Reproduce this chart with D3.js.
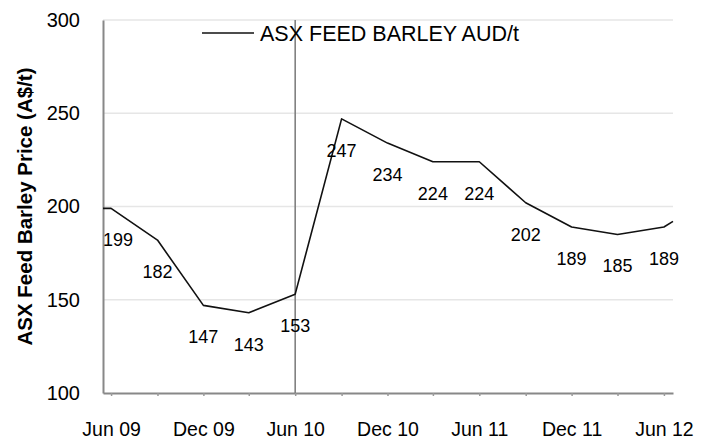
<!DOCTYPE html>
<html>
<head>
<meta charset="utf-8">
<script src="https://cdn.jsdelivr.net/npm/d3@7"></script>
<style>
  html, body { margin: 0; padding: 0; background: #fff; }
  svg { display: block; font-family: "Liberation Sans", Arial, Helvetica, sans-serif; }
</style>
</head>
<body>
<svg id="chart" width="712" height="440"></svg>
<script>
// ASX feed barley futures, quarterly settlements (A$/t), with the series
// running on to the edges of the plotted window.
const dates = [
  "2009-05-16", "2009-06-01", "2009-09-01", "2009-12-01", "2010-03-01",
  "2010-06-01", "2010-09-01", "2010-12-01", "2011-03-01", "2011-06-01",
  "2011-09-01", "2011-12-01", "2012-03-01", "2012-06-01", "2012-06-19"
];
const prices = [199, 199, 182, 147, 143, 153, 247, 234, 224, 224, 202, 189, 185, 189, 192];

// Axis ticks: every quarter, labelled every half year
const tickDates = [
  "2009-06-01", "2009-09-01", "2009-12-01", "2010-03-01", "2010-06-01",
  "2010-09-01", "2010-12-01", "2011-03-01", "2011-06-01", "2011-09-01",
  "2011-12-01", "2012-03-01", "2012-06-01"
];
const yTicks = [100, 150, 200, 250, 300];
const markerDate = "2010-06-01";   // vertical reference line

const seriesName = "ASX FEED BARLEY AUD/t";
const yTitle = "ASX Feed Barley Price (A$/t)";

const parse = d3.timeParse("%Y-%m-%d");
const points = dates.map((d, i) => ({ date: parse(d), value: prices[i] }));

const svg = d3.select("#chart");
const margin = { left: 103, right: 39, top: 20, bottom: 47 };
const W = 712, H = 440;

const x = d3.scaleTime()
  .domain(d3.extent(points, d => d.date))
  .range([margin.left, W - margin.right]);
const y = d3.scaleLinear()
  .domain([d3.min(yTicks), d3.max(yTicks)])
  .range([H - margin.bottom, margin.top]);

// horizontal gridlines
svg.append("g")
  .selectAll("line")
  .data(yTicks.filter(v => v !== d3.min(yTicks)))
  .join("line")
  .attr("x1", x.range()[0]).attr("x2", x.range()[1])
  .attr("y1", d => y(d)).attr("y2", d => y(d))
  .attr("stroke", "#e6e6e6")
  .attr("stroke-width", 1.5);

// y axis
const yAxis = svg.append("g")
  .attr("transform", `translate(${x.range()[0]},0)`)
  .call(d3.axisLeft(y).tickValues(yTicks).tickSize(0).tickPadding(23).tickFormat(d3.format("d")));
yAxis.select(".domain").attr("stroke", "#888").attr("stroke-width", 2);
yAxis.selectAll("text")
  .attr("font-size", 20)
  .attr("fill", "#000")
  .attr("font-family", "Liberation Sans, Arial, sans-serif");

// x axis
const fmt = d3.timeFormat("%b %y");
const xAxis = svg.append("g")
  .attr("transform", `translate(0,${y.range()[0]})`)
  .call(d3.axisBottom(x)
    .tickValues(tickDates.map(parse))
    .tickSize(3)
    .tickSizeOuter(0)
    .tickPadding(26)
    .tickFormat(d => (d.getMonth() === 5 || d.getMonth() === 11) ? fmt(d) : ""));
xAxis.select(".domain").attr("stroke", "#888").attr("stroke-width", 2);
xAxis.selectAll(".tick line").attr("stroke", "#999").attr("stroke-width", 1.5);
xAxis.selectAll("text")
  .attr("font-size", 19.5)
  .attr("fill", "#000")
  .attr("font-family", "Liberation Sans, Arial, sans-serif");

// vertical reference line
svg.append("line")
  .attr("x1", x(parse(markerDate))).attr("x2", x(parse(markerDate)))
  .attr("y1", y.range()[1]).attr("y2", y.range()[0])
  .attr("stroke", "#808080")
  .attr("stroke-width", 1.6);

// price line
const line = d3.line().x(d => x(d.date)).y(d => y(d.value));
svg.append("path")
  .datum(points)
  .attr("d", line)
  .attr("fill", "none")
  .attr("stroke", "#111")
  .attr("stroke-width", 1.6)
  .attr("stroke-linejoin", "round");

// value labels on the quarterly settlements
const labelled = points.filter(p => tickDates.includes(d3.timeFormat("%Y-%m-%d")(p.date)));
svg.append("g")
  .selectAll("text")
  .data(labelled)
  .join("text")
  .attr("x", d => x(d.date))
  .attr("y", d => y(d.value) + 38)
  .attr("text-anchor", "middle")
  .attr("font-size", 18)
  .attr("fill", "#000")
  .text(d => d3.format("d")(d.value))
  .each(function () {
    // keep labels inside the plot's left edge
    const w = this.getComputedTextLength();
    const cx = +this.getAttribute("x");
    if (cx - w / 2 < x.range()[0]) this.setAttribute("x", x.range()[0] + w / 2);
  });

// legend
const lg = svg.append("g");
lg.append("line")
  .attr("x1", 202).attr("x2", 254).attr("y1", 33).attr("y2", 33)
  .attr("stroke", "#111").attr("stroke-width", 1.6);
lg.append("text")
  .attr("x", 260).attr("y", 41)
  .attr("font-size", 21.5)
  .attr("fill", "#000")
  .text(seriesName);

// y axis title
svg.append("text")
  .attr("transform", `translate(32,${(y.range()[0] + y.range()[1]) / 2}) rotate(-90)`)
  .attr("text-anchor", "middle")
  .attr("font-size", 20.5)
  .attr("font-weight", "bold")
  .attr("fill", "#000")
  .text(yTitle);
</script>
</body>
</html>
